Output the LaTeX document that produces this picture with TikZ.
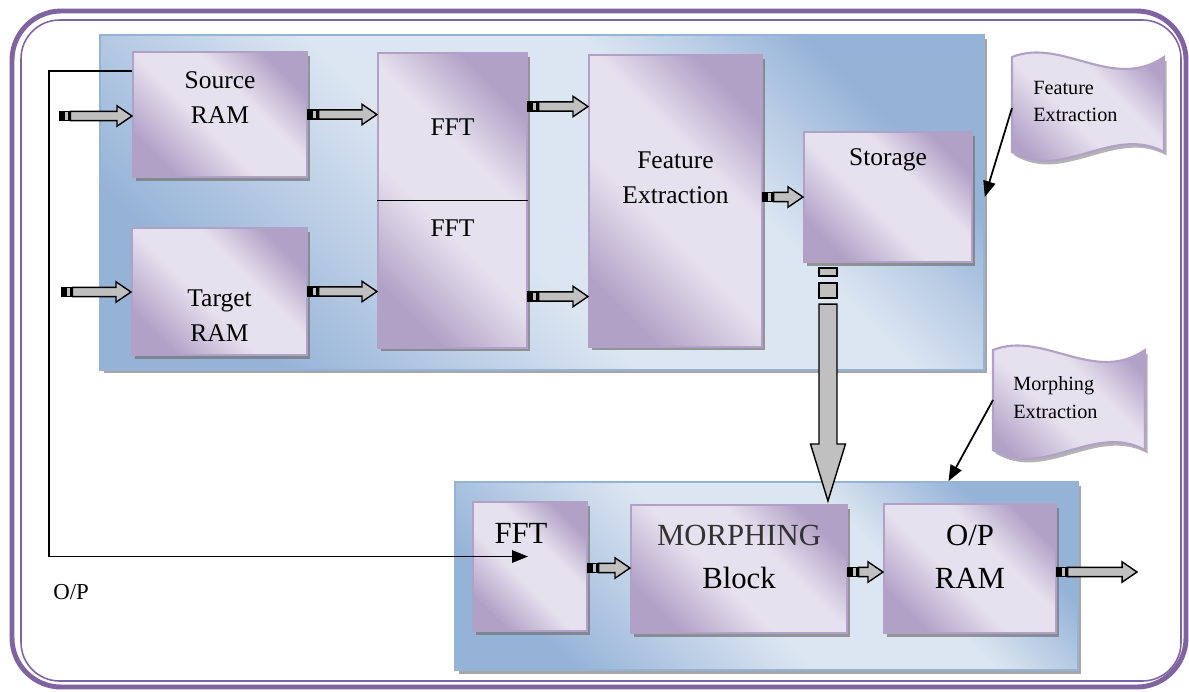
\documentclass[tikz,border=0pt]{standalone}
\usepackage{fontspec}
\setmainfont{Liberation Serif}
\newfontfamily\tnr{Liberation Serif}
\usetikzlibrary{calc,shadows,arrows.meta}
\definecolor{framepurple}{HTML}{8064A2}
\definecolor{boxdark}{HTML}{B2A1C7}
\definecolor{boxlight}{HTML}{E6E1EE}
\definecolor{paneldark}{HTML}{95B3D7}
\definecolor{panellight}{HTML}{DCE6F2}
\definecolor{arrowgray}{HTML}{C0C0C0}
\pgfdeclareverticalshading{purpband}{100bp}{color(0bp)=(boxdark); color(25bp)=(boxdark);
	color(44bp)=(boxlight); color(60bp)=(boxlight); color(75bp)=(boxdark); color(100bp)=(boxdark)}
\pgfdeclareverticalshading{blueband}{100bp}{color(0bp)=(paneldark); color(25bp)=(paneldark);
	color(46bp)=(panellight); color(62bp)=(panellight); color(75bp)=(paneldark); color(100bp)=(paneldark)}

\tikzset{
	panel/.style={draw=paneldark, line width=1pt, inner sep=0, shading=blueband, shading angle=-45,
		drop shadow={shadow xshift=2pt, shadow yshift=-2pt, fill=black!50, opacity=.7}},
	block/.style={draw=boxdark, line width=1.2pt, inner sep=0, shading=purpband, shading angle=-45,
		drop shadow={shadow xshift=1.8pt, shadow yshift=-2pt, fill=black!55, opacity=.7}},
	flagsh/.style={draw=boxdark, line width=1.2pt, shading=purpband, shading angle=-45,
		drop shadow={shadow xshift=1.5pt, shadow yshift=-2pt, fill=black!50, opacity=.6}},
	lbl/.style={font=\tnr\fontsize{14.5}{20}\selectfont, align=center, inner sep=0},
	biglbl/.style={font=\tnr\fontsize{17.5}{24.5}\selectfont, align=center, inner sep=0},
	flaglbl/.style={font=\tnr\fontsize{11.5}{15.5}\selectfont, align=left, inner sep=0, anchor=west},
	blkbody/.style={draw=black, line width=0.8pt, fill=arrowgray, line join=miter},
	blktail/.style={draw=black, line width=0.8pt, fill=arrowgray},
	thinarr/.style={line width=1pt, -{Triangle[length=9pt,width=7pt]}},
}

% wide grey arrow with a small striped tail
\newcommand{\blockarr}[2]{%
	\draw[blkbody] let \p1=(#1), \p2=(#2) in
		(\x1+6pt,\y1+2.6pt) -- (\x2-8.5pt,\y1+2.6pt) -- (\x2-8.5pt,\y1+5.8pt) -- (\x2,\y1)
		-- (\x2-8.5pt,\y1-5.8pt) -- (\x2-8.5pt,\y1-2.6pt) -- (\x1+6pt,\y1-2.6pt) -- cycle;
	\draw[blktail, fill=black] let \p1=(#1) in (\x1,\y1-2.6pt) rectangle (\x1+1.4pt,\y1+2.6pt);
	\draw[blktail] let \p1=(#1) in (\x1+2.2pt,\y1-2.6pt) rectangle (\x1+5.1pt,\y1+2.6pt);
}

\begin{document}
\begin{tikzpicture}[x=0.02cm, y=-0.02cm]
	\useasboundingbox (0,0) rectangle (1189,691);
	% frame
	\draw[framepurple, line width=2.8pt, rounded corners=28pt] (12,11) rectangle (1186,687);
	\draw[framepurple, line width=0.9pt, rounded corners=22pt] (21,20) rectangle (1181,681);

	% upper stage
	\node[panel, minimum width=17.68cm, minimum height=6.70cm] (toppanel) at (542,202.5) {};
	\node[block, minimum width=3.48cm, minimum height=2.50cm] (srcram) at (220,114.5) {};
	\node[block, minimum width=3.50cm, minimum height=2.54cm] (tgtram) at (219.5,291.5) {};
	\node[block, minimum width=2.98cm, minimum height=5.90cm] (fft) at (452.5,200.5) {};
	\node[block, minimum width=3.46cm, minimum height=5.84cm] (featext) at (675.5,201) {};
	\node[block, minimum width=3.36cm, minimum height=2.60cm] (storage) at (888,197) {};
	\draw[line width=0.8pt] (fft.west) -- (fft.east);

	\node[lbl] (srctxt) at (220,97.5) {Source\\RAM};
	\node[lbl] (tgttxt) at (219.5,315.5) {Target\\RAM};
	\node[lbl] (ffttxta) at (452.5,127) {FFT};
	\node[lbl] (ffttxtb) at (452.5,228) {FFT};
	\node[lbl] (feattxt) at (675.5,177.5) {Feature\\Extraction};
	\node[lbl] (stortxt) at (888,160) {Storage};

	% lower stage
	\node[panel, minimum width=12.46cm, minimum height=3.76cm] (botpanel) at (766.5,576) {};
	\node[block, minimum width=2.28cm, minimum height=2.58cm] (fftb) at (530,566.5) {};
	\node[block, minimum width=4.32cm, minimum height=2.56cm] (morph) at (739,569) {};
	\node[block, minimum width=3.44cm, minimum height=2.58cm] (opram) at (970,568.5) {};

	\node[biglbl] (fftbtxt) at (521,533) {FFT};
	\node[biglbl] (morphtxt) at (739,556.5) {\textcolor{black!80}{MORPHING}\\Block};
	\node[biglbl] (optxt) at (970,556.5) {O/P\\RAM};
	\node[lbl, anchor=west, font=\tnr\fontsize{13}{16}\selectfont] (oplabel) at (53,592) {O/P};

	% block arrows
	\coordinate (srcin) at (60,116);
	\coordinate (tgtin) at (62,292);
	\coordinate (opout) at (1137,572);
	\blockarr{srcin}{srcram.west}
	\blockarr{srcram.east}{fft.west}
	\blockarr{tgtin}{tgtram.west}
	\blockarr{tgtram.east}{fft.west}
	\blockarr{$(fft.east)+(0,-94)$}{featext.west}
	\blockarr{$(fft.east)+(0,96)$}{featext.west}
	\blockarr{featext.east |- storage.west}{storage.west}
	\blockarr{$(fftb.east)+(0,1.5)$}{morph.west}
	\blockarr{$(morph.east)+(0,3)$}{opram.west}
	\blockarr{$(opram.east)+(0,3.5)$}{opout}

	% storage down to morphing
	\coordinate (dtop) at ($(storage.south west)+(25,0)$);
	\coordinate (dtip) at ($(dtop |- morph.north)+(0,-3)$);
	\draw[blktail] ($(dtop)+(-9,5)$) rectangle ($(dtop)+(9,13)$);
	\draw[blktail] ($(dtop)+(-9,20)$) rectangle ($(dtop)+(9,35)$);
	\draw[blkbody] ($(dtop)+(-9,41)$) -- ($(dtip)+(-9,-57)$) -- ($(dtip)+(-17.5,-57)$) -- (dtip)
		-- ($(dtip)+(17.5,-57)$) -- ($(dtip)+(9,-57)$) -- ($(dtop)+(9,41)$) -- cycle;

	% feedback line
	\draw[thinarr] ($(srcram.north west)+(0,20)$) -- ++(-83,0) |- ($(fftb.center)+(-2,-10)$);

	% flags
	\draw[flagsh] (1012,57) .. controls (1062,37) and (1113,92) .. (1164,57) -- (1164,152)
		.. controls (1113,124) and (1062,182) .. (1012,152) -- cycle;
	\node[flaglbl] (flagatxt) at (1033,101.5) {Feature\\Extraction};
	\coordinate (flagatail) at (1012,108);
	\draw[thinarr] (flagatail) -- (toppanel.east |- storage.center);

	\draw[flagsh] (993,350) .. controls (1043,330) and (1094,385) .. (1145,350) -- (1145,450)
		.. controls (1094,422) and (1043,480) .. (993,450) -- cycle;
	\node[flaglbl] (flagbtxt) at (1013,397.5) {Morphing\\Extraction};
	\coordinate (flagbtail) at (993,400);
	\draw[thinarr] (flagbtail) -- ($(botpanel.north)+(182,0)$);
\end{tikzpicture}
\end{document}
